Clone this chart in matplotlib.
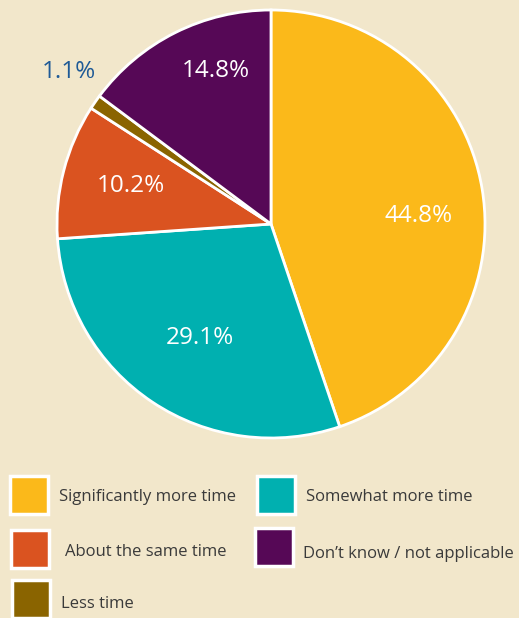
import matplotlib.pyplot as plt
from matplotlib.patches import Rectangle
import numpy as np

plt.rcParams["font.family"] = ["Open Sans", "DejaVu Sans"]

categories = ["Significantly more time", "Somewhat more time", "About the same time",
              "Less time", "Don\u2019t know / not applicable"]
values = [44.8, 29.1, 10.2, 1.1, 14.8]
colors = ["#FBB91A", "#00B0B0", "#DA5320", "#8A6400", "#560856"]
bg = "#F2E7CB"

fig = plt.figure(figsize=(5.19, 6.18), dpi=100)
fig.patch.set_facecolor(bg)

W, H = 519, 618
cx, cy, r = 271, 224, 214
ax = fig.add_axes([(cx - r) / W, (H - cy - r) / H, 2 * r / W, 2 * r / H])
ax.set_facecolor(bg)
ax.pie(values, colors=colors, startangle=90, counterclock=False,
       wedgeprops=dict(edgecolor="white", linewidth=2))
ax.set_xlim(-1, 1)
ax.set_ylim(-1, 1)
ax.set_aspect("equal")
ax.axis("off")

# label placement (radius, angle in degrees) per wedge
label_pos = [(0.69, 3), (0.63, -122), (0.68, 165), (1.18, 143), (0.76, 110)]
for v, (rr, ang) in zip(values, label_pos):
    col = "#1F5A96" if v < 5 else "white"
    ax.text(rr * np.cos(np.radians(ang)), rr * np.sin(np.radians(ang)), f"{v}%",
            ha="center", va="center", fontsize=17.5, color=col)

# legend drawn by hand: box x, box y, text x, text y (pixels from top-left)
boxes = [(10, 476, 59, 497), (257, 476, 306, 497), (11, 530, 65, 552),
         (12, 580, 61, 604), (255, 528, 303, 554)]
for (bx, by, tx, ty), lab, c in zip(boxes, categories, colors):
    fig.patches.append(Rectangle((bx / W, 1 - (by + 38) / H), 38 / W, 38 / H,
                                 transform=fig.transFigure, facecolor=c,
                                 edgecolor="white", linewidth=2.5))
    fig.text(tx / W, 1 - ty / H, lab, ha="left", va="center", fontsize=12,
             color="#3a3a3a")

fig.savefig("out.png", dpi=100, facecolor=bg)
